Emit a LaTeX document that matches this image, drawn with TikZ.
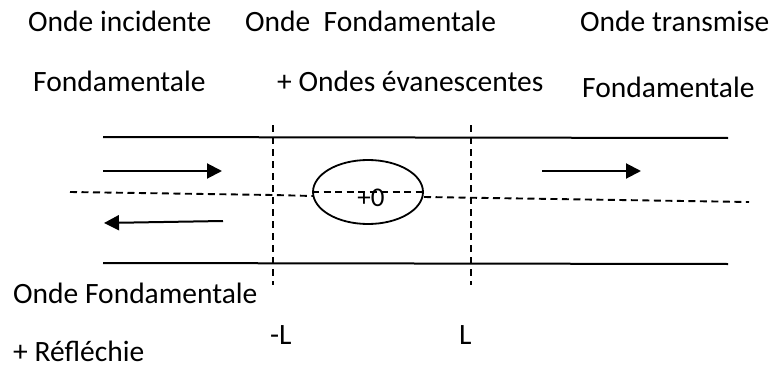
\documentclass[tikz,border=0pt]{standalone}
\usepackage{fontspec}
\setmainfont{Carlito}
\usetikzlibrary{arrows.meta,shapes.geometric}
\begin{document}
\begin{tikzpicture}[x=1pt,y=-1pt,
  lbl/.style={anchor=base west,inner sep=0pt,font=\fontsize{29.5}{34}\selectfont},
  guide/.style={line width=2pt},
  axisdash/.style={line width=1.9pt,dash pattern=on 7pt off 4.5pt},
  vdash/.style={line width=1.9pt,dash pattern=on 7pt off 5pt},
  wave/.style={line width=2pt,-{Triangle[length=15pt,width=15pt]}}]
\useasboundingbox (0,0) rectangle (771,369);
% texts
\node[lbl] (t1) at (28,32) {Onde incidente};
\node[lbl] (t2) at (245,32) {Onde\ \ Fondamentale};
\node[lbl] (t3) at (580,32) {Onde transmise};
\node[lbl] (t4) at (33,92) {Fondamentale};
\node[lbl] (t5) at (277,92) {+ Ondes évanescentes};
\node[lbl] (t6) at (582,97) {Fondamentale};
\node[lbl] (t7) at (13,303) {Onde Fondamentale};
\node[lbl] (t8) at (13,361) {+ Réfléchie};
\node[lbl] (mL) at (270,344) {-L};
\node[lbl] (pL) at (459,344) {L};
% guide walls
\coordinate (wtl) at (103,137); \coordinate (wtr) at (728,138);
\coordinate (wbl) at (103,263); \coordinate (wbr) at (728,264);
\draw[guide] (wtl) -- (wtr);
\draw[guide] (wbl) -- (wbr);
% vertical dashed
\coordinate (v1t) at (273,125); \coordinate (v1b) at (273,285);
\coordinate (v2t) at (471,125); \coordinate (v2b) at (471,285);
\draw[vdash] (v1t) -- (v1b);
\draw[vdash] (v2t) -- (v2b);
% obstacle
\node[draw,line width=1.8pt,ellipse,minimum width=110pt,minimum height=64pt,inner sep=0pt] (obs) at (368,192) {};
\node[anchor=base,inner sep=0pt,font=\fontsize{27}{32}\selectfont] (zero) at (371,206) {+0};
% axis
\coordinate (a0) at (70,192); \coordinate (a1) at (273,195);
\coordinate (a2) at (313,196); \coordinate (a3) at (424,197);
\coordinate (a4) at (749,202);
\draw[axisdash] (a0) -- (a1) -- (a2);
\draw[axisdash] (obs.west) -- (obs.east);
\draw[axisdash] (a3) -- (a4);
% arrows
\coordinate (i0) at (103,171); \coordinate (i1) at (222,171);
\coordinate (r0) at (223,221); \coordinate (r1) at (104,223);
\coordinate (o0) at (542,171); \coordinate (o1) at (641,171);
\draw[wave] (i0) -- (i1);
\draw[wave] (r0) -- (r1);
\draw[wave] (o0) -- (o1);
\end{tikzpicture}
\end{document}
